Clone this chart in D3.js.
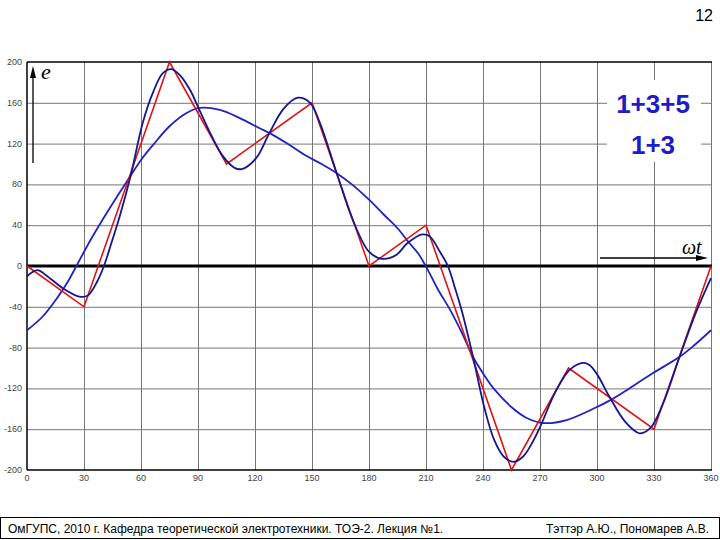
<!DOCTYPE html>
<html><head><meta charset="utf-8">
<script src="https://cdn.jsdelivr.net/npm/d3@7"></script>
<style>body{margin:0;background:#fff}svg{display:block}</style>
</head><body>
<svg id="c" width="720" height="540"></svg>
<script>
const xTicks = [0,30,60,90,120,150,180,210,240,270,300,330,360];
const yTicks = [-200,-160,-120,-80,-40,0,40,80,120,160,200];

// red: piecewise-linear original curve (vertices)
const redDeg = [0,30,75,105,150,180,210,255,285,330,360];
const redVal = [0,-40,200,100,160,0,40,-200,-100,-160,0];

// blue "1+3+5"
const h135Deg = [0,5.5,10,19,27.5,32,37,40.5,44,49,54.5,61,66.5,71.5,76,81,86,90,96.5,103,109.5,113,117,121.5,127.5,135,142.5,149,154,163,171.5,
  180,187,194.5,200,208,212,217,221.5,225,229,234.5,241,246,251,256,261,266,270,278.5,285.5,292.5,296,300,306.5,315,322.5,328,334.5,343.5,352,360];
const h135Val = [-10,-4,-9,-22,-30,-29,-15,0,20,50,88,141,171,189,193,186,172,156,130,108,96,95,99,108,130,154,165,160,141,91,45,
  14,7,11,22,31,29,15,0,-20,-45,-87,-141,-171,-187,-192,-187,-173,-158,-122,-102,-95,-97,-106,-128,-153,-164,-159,-136,-89,-46,-12];

// blue "1+3"
const h13Deg = [0,8,16,21,26,33,40,47,54,60,66.5,75,84,91,101.5,112,122.5,128,137,147,155,163,171,180,188,195,201,206,211,216,223,229,235,241,246,256,263,272,284,298,308.5,317,329.5,343.5,351,360];
const h13Val = [-63,-50,-31,-17,0,24,46,67,87,104,119,137,150,155,153,145,135,130,120,108,100,91,80,65,50,37,23,12,-4,-22,-44,-66,-90,-108,-121,-140,-149,-154,-151,-140,-130,-120,-105,-89,-78,-63];

const legendLabels = ["1+3+5","1+3"];
const footerLeft = "ОмГУПС, 2010 г. Кафедра теоретической электротехники. ТОЭ-2. Лекция №1.";
const footerRight = "Тэттэр А.Ю., Пономарев А.В.";
const pageNo = "12";

const svg = d3.select("#c");
const x = d3.scaleLinear().domain([0,360]).range([27,711]);
const y = d3.scaleLinear().domain([-200,200]).range([470,62]);

// grid
const g = svg.append("g");
g.selectAll("line.v").data(xTicks.slice(1)).join("line")
  .attr("x1",d=>x(d)+0.5).attr("x2",d=>x(d)+0.5).attr("y1",y(200)).attr("y2",y(-200))
  .attr("stroke","#767676").attr("stroke-width",1);
g.selectAll("line.h").data(yTicks.filter(d=>d!==0 && d!==200 && d!==-200)).join("line")
  .attr("x1",x(0)).attr("x2",x(360)).attr("y1",d=>y(d)+0.5).attr("y2",d=>y(d)+0.5)
  .attr("stroke","#767676").attr("stroke-width",1);

// legend background box hiding grid
svg.append("rect").attr("x",607).attr("y",80).attr("width",94).attr("height",82).attr("fill","#fff");

// frame: left, top, bottom black
svg.append("line").attr("x1",x(0)).attr("x2",x(0)).attr("y1",y(200)).attr("y2",y(-200)).attr("stroke","#000").attr("stroke-width",1.5);
svg.append("line").attr("x1",x(0)).attr("x2",x(360)+1).attr("y1",y(200)).attr("y2",y(200)).attr("stroke","#000").attr("stroke-width",1.5);
svg.append("line").attr("x1",x(0)).attr("x2",x(360)+1).attr("y1",y(-200)).attr("y2",y(-200)).attr("stroke","#000").attr("stroke-width",1.5);

// zero axis
svg.append("line").attr("x1",x(0)).attr("x2",x(360)+1).attr("y1",y(0)).attr("y2",y(0)).attr("stroke","#000").attr("stroke-width",3);

// tick labels
svg.append("g").selectAll("text").data(yTicks).join("text")
  .attr("x",22).attr("y",d=>y(d)+3).attr("text-anchor","end")
  .attr("font-family","Liberation Sans, Arial, sans-serif").attr("font-size",9).attr("fill","#444")
  .text(d=>d);
svg.append("g").selectAll("text").data(xTicks).join("text")
  .attr("x",d=>x(d)).attr("y",481).attr("text-anchor","middle")
  .attr("font-family","Liberation Sans, Arial, sans-serif").attr("font-size",9).attr("fill","#444")
  .text(d=>d);

const line = d3.line().x(d=>x(d[0])).y(d=>y(d[1]));
const smooth = d3.line().x(d=>x(d[0])).y(d=>y(d[1])).curve(d3.curveCatmullRom.alpha(0.5));

svg.append("path").datum(h13Deg.map((d,i)=>[d,h13Val[i]])).attr("d",smooth)
  .attr("fill","none").attr("stroke","#2222c4").attr("stroke-width",1.8);
svg.append("path").datum(redDeg.map((d,i)=>[d,redVal[i]])).attr("d",line)
  .attr("fill","none").attr("stroke","#e01414").attr("stroke-width",1.6);
svg.append("path").datum(h135Deg.map((d,i)=>[d,h135Val[i]])).attr("d",smooth)
  .attr("fill","none").attr("stroke","#16168e").attr("stroke-width",1.8);

// e axis arrow
svg.append("line").attr("x1",33).attr("x2",33).attr("y1",163).attr("y2",74).attr("stroke","#000").attr("stroke-width",1.3);
svg.append("path").attr("d","M33,66 L30,78 L36,78 Z").attr("fill","#000");
svg.append("text").attr("x",41).attr("y",79).attr("font-family","Liberation Serif, Times New Roman, serif")
  .attr("font-style","italic").attr("font-size",22).attr("fill","#000").text("e");

// ωt arrow
svg.append("line").attr("x1",600).attr("x2",700).attr("y1",258).attr("y2",258).attr("stroke","#000").attr("stroke-width",1.3);
svg.append("path").attr("d","M708,258 L696,255 L696,261 Z").attr("fill","#000");
svg.append("text").attr("x",682).attr("y",254).attr("font-family","Liberation Serif, Times New Roman, serif")
  .attr("font-style","italic").attr("font-size",20).attr("fill","#000").text("ωt");

// legend labels
svg.append("g").selectAll("text").data(legendLabels).join("text")
  .attr("x",653).attr("y",(d,i)=>113+i*41).attr("text-anchor","middle")
  .attr("font-family","Liberation Sans, Arial, sans-serif").attr("font-weight","bold").attr("font-size",26)
  .attr("fill","#1c1cc8").text(d=>d);

// page number
svg.append("text").attr("x",713).attr("y",21).attr("text-anchor","end")
  .attr("font-family","Liberation Sans, Arial, sans-serif").attr("font-size",16).attr("fill","#000").text(pageNo);

// footer
svg.append("rect").attr("x",0.5).attr("y",517.5).attr("width",719).attr("height",21).attr("fill","none").attr("stroke","#000").attr("stroke-width",1);
svg.append("text").attr("x",8).attr("y",533).attr("font-family","Liberation Sans, Arial, sans-serif").attr("font-size",12).attr("fill","#000").text(footerLeft);
svg.append("text").attr("x",709).attr("y",533).attr("text-anchor","end").attr("font-family","Liberation Sans, Arial, sans-serif").attr("font-size",12).attr("fill","#000").text(footerRight);
</script>
</body></html>
